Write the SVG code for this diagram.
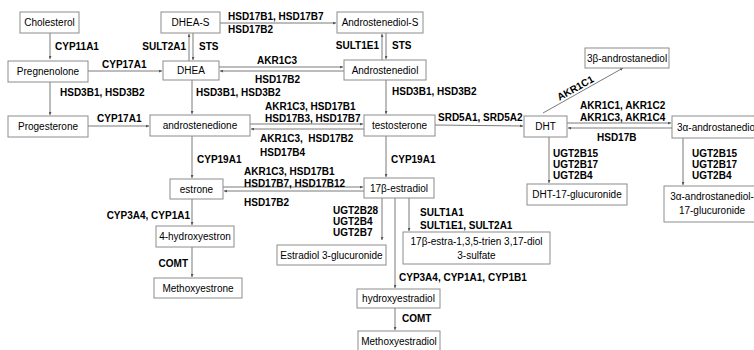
<svg xmlns="http://www.w3.org/2000/svg" width="754" height="350" viewBox="0 0 754 350">
<defs>
<style>
.b{fill:#fff;stroke:#8c8c8c;stroke-width:1}
.n{font-family:"Liberation Sans",Arial,sans-serif;font-size:10px;fill:#000;text-anchor:middle}
.nl{font-family:"Liberation Sans",Arial,sans-serif;font-size:10px;fill:#000}
.e{font-family:"Liberation Sans",Arial,sans-serif;font-size:10px;font-weight:bold;fill:#000}
.er{font-family:"Liberation Sans",Arial,sans-serif;font-size:10px;font-weight:bold;fill:#000;text-anchor:end}
.c{stroke:#7a7a7a;stroke-width:1;fill:none;marker-end:url(#ah)}
</style>
<marker id="ah" viewBox="0 0 6 6" refX="6" refY="3" markerWidth="3" markerHeight="3" orient="auto" markerUnits="userSpaceOnUse">
<path d="M0,0 L6,3 L0,6 z" fill="#555"/>
</marker>
</defs>
<rect width="754" height="350" fill="#fff"/>
<g id="connectors">
<line class="c" x1="50" y1="33" x2="50" y2="59"/>
<line class="c" x1="50" y1="82" x2="50" y2="115"/>
<line class="c" x1="88" y1="71" x2="162" y2="71"/>
<line class="c" x1="189" y1="61" x2="189" y2="34"/>
<line class="c" x1="193" y1="33" x2="193" y2="60"/>
<line class="c" x1="220" y1="23" x2="336" y2="23"/>
<line class="c" x1="382" y1="60" x2="382" y2="34"/>
<line class="c" x1="386" y1="33" x2="386" y2="59"/>
<line class="c" x1="219" y1="67" x2="343" y2="67"/>
<line class="c" x1="344" y1="71" x2="220" y2="71"/>
<line class="c" x1="192" y1="80" x2="192" y2="114"/>
<line class="c" x1="386" y1="80" x2="386" y2="114"/>
<line class="c" x1="88" y1="126" x2="149" y2="126"/>
<line class="c" x1="250" y1="124" x2="363" y2="124"/>
<line class="c" x1="364" y1="129" x2="251" y2="129"/>
<line class="c" x1="435" y1="125" x2="523" y2="126"/>
<line class="c" x1="543" y1="113" x2="623" y2="68"/>
<line class="c" x1="567" y1="123" x2="671" y2="123"/>
<line class="c" x1="672" y1="128" x2="568" y2="128"/>
<line class="c" x1="549" y1="137" x2="549" y2="183"/>
<line class="c" x1="683" y1="138" x2="683" y2="185"/>
<line class="c" x1="192" y1="136" x2="192" y2="178"/>
<line class="c" x1="386" y1="136" x2="386" y2="177"/>
<line class="c" x1="223" y1="187" x2="363" y2="187"/>
<line class="c" x1="364" y1="191" x2="224" y2="191"/>
<line class="c" x1="192" y1="199" x2="192" y2="225"/>
<line class="c" x1="192" y1="247" x2="192" y2="277"/>
<line class="c" x1="382" y1="198" x2="382" y2="240"/>
<line class="c" x1="395" y1="198" x2="395" y2="288"/>
<line class="c" x1="409" y1="198" x2="409" y2="231"/>
<line class="c" x1="395" y1="308" x2="395" y2="330"/>
</g>
<g id="labels">
<text class="e" x="55" y="50">CYP11A1</text>
<text class="e" x="60" y="96">HSD3B1, HSD3B2</text>
<text class="e" x="102" y="68">CYP17A1</text>
<text class="er" x="186" y="50">SULT2A1</text>
<text class="e" x="199" y="50">STS</text>
<text class="e" x="228" y="20">HSD17B1, HSD17B7</text>
<text class="e" x="228" y="33">HSD17B2</text>
<text class="er" x="379" y="49">SULT1E1</text>
<text class="e" x="392" y="49">STS</text>
<text class="e" x="257" y="64">AKR1C3</text>
<text class="e" x="255" y="83">HSD17B2</text>
<text class="e" x="196" y="96">HSD3B1, HSD3B2</text>
<text class="e" x="392" y="95">HSD3B1, HSD3B2</text>
<text class="e" x="97" y="122">CYP17A1</text>
<text class="e" x="265" y="110">AKR1C3, HSD17B1</text>
<text class="e" x="265" y="122">HSD17B3, HSD17B7</text>
<text class="e" x="260" y="142" xml:space="preserve">AKR1C3,  HSD17B2</text>
<text class="e" x="260" y="156">HSD17B4</text>
<text class="e" x="438" y="121">SRD5A1, SRD5A2</text>
<text class="e" transform="translate(577,91) rotate(-29)" text-anchor="middle">AKR1C1</text>
<text class="e" x="580" y="109">AKR1C1, AKR1C2</text>
<text class="e" x="580" y="121">AKR1C3, AKR1C4</text>
<text class="e" x="597" y="141">HSD17B</text>
<text class="e" x="553" y="157">UGT2B15</text>
<text class="e" x="553" y="168">UGT2B17</text>
<text class="e" x="553" y="179">UGT2B4</text>
<text class="e" x="692" y="157">UGT2B15</text>
<text class="e" x="692" y="168">UGT2B17</text>
<text class="e" x="692" y="179">UGT2B4</text>
<text class="e" x="197" y="163">CYP19A1</text>
<text class="e" x="391" y="163">CYP19A1</text>
<text class="e" x="244" y="175">AKR1C3, HSD17B1</text>
<text class="e" x="244" y="187">HSD17B7, HSD17B12</text>
<text class="e" x="244" y="206">HSD17B2</text>
<text class="er" x="190" y="219">CYP3A4, CYP1A1</text>
<text class="er" x="188" y="267">COMT</text>
<text class="e" x="333" y="214">UGT2B28</text>
<text class="e" x="333" y="225">UGT2B4</text>
<text class="e" x="333" y="236">UGT2B7</text>
<text class="e" x="420" y="216">SULT1A1</text>
<text class="e" x="420" y="229">SULT1E1, SULT2A1</text>
<text class="e" x="399" y="281">CYP3A4, CYP1A1, CYP1B1</text>
<text class="e" x="402" y="322">COMT</text>
</g>
<g id="cholesterol"><rect class="b" x="20" y="12" width="59" height="21"/><text class="n" x="49.5" y="26">Cholesterol</text></g>
<g id="dhea-s"><rect class="b" x="161" y="12" width="59" height="21"/><text class="n" x="190.5" y="26">DHEA-S</text></g>
<g id="androstenediol-s"><rect class="b" x="337" y="12" width="86" height="21"/><text class="n" x="380" y="26">Androstenediol-S</text></g>
<g id="pregnenolone"><rect class="b" x="8" y="61" width="80" height="21"/><text class="n" x="48" y="75">Pregnenolone</text></g>
<g id="dhea"><rect class="b" x="163" y="61" width="56" height="19"/><text class="n" x="191" y="74">DHEA</text></g>
<g id="androstenediol"><rect class="b" x="344" y="60" width="82" height="20"/><text class="n" x="385" y="74">Androstenediol</text></g>
<g id="b-androstanediol"><rect class="b" x="585" y="48" width="84" height="20"/><text class="n" x="627" y="62">3β-androstanediol</text></g>
<g id="progesterone"><rect class="b" x="8" y="116" width="80" height="21"/><text class="n" x="48" y="130">Progesterone</text></g>
<g id="androstenedione"><rect class="b" x="150" y="115" width="100" height="21"/><text class="n" x="200" y="129">androstenedione</text></g>
<g id="testosterone"><rect class="b" x="364" y="115" width="71" height="21"/><text class="n" x="399.5" y="129">testosterone</text></g>
<g id="dht"><rect class="b" x="524" y="116" width="43" height="21"/><text class="n" x="545.5" y="130">DHT</text></g>
<g id="a-androstanediol"><rect class="b" x="672" y="116" width="90" height="22"/><text class="nl" x="677" y="131">3α-androstanediol</text></g>
<g id="estrone"><rect class="b" x="170" y="179" width="53" height="20"/><text class="n" x="196.5" y="193">estrone</text></g>
<g id="estradiol"><rect class="b" x="364" y="178" width="70" height="20"/><text class="n" x="399" y="192">17β-estradiol</text></g>
<g id="dht-glucuronide"><rect class="b" x="527" y="184" width="100" height="21"/><text class="n" x="577" y="198">DHT-17-glucuronide</text></g>
<g id="a-glucuronide"><rect class="b" x="664" y="186" width="100" height="36"/><text class="n" x="712" y="200">3α-androstanediol-</text><text class="n" x="712" y="214">17-glucuronide</text></g>
<g id="hydroxyestron"><rect class="b" x="156" y="226" width="78" height="21"/><text class="n" x="195" y="240">4-hydroxyestron</text></g>
<g id="estradiol-glucuronide"><rect class="b" x="277" y="245" width="109" height="20"/><text class="n" x="331.5" y="259">Estradiol 3-glucuronide</text></g>
<g id="estradiol-sulfate"><rect class="b" x="403" y="232" width="147" height="32"/><text class="n" x="476.5" y="245">17β-estra-1,3,5-trien 3,17-diol</text><text class="n" x="476.5" y="259">3-sulfate</text></g>
<g id="methoxyestrone"><rect class="b" x="154" y="278" width="88" height="20"/><text class="n" x="198" y="292">Methoxyestrone</text></g>
<g id="hydroxyestradiol"><rect class="b" x="357" y="289" width="83" height="19"/><text class="n" x="398.5" y="302">hydroxyestradiol</text></g>
<g id="methoxyestradiol"><rect class="b" x="358" y="331" width="82" height="22"/><text class="n" x="399" y="345">Methoxyestradiol</text></g>
</svg>
